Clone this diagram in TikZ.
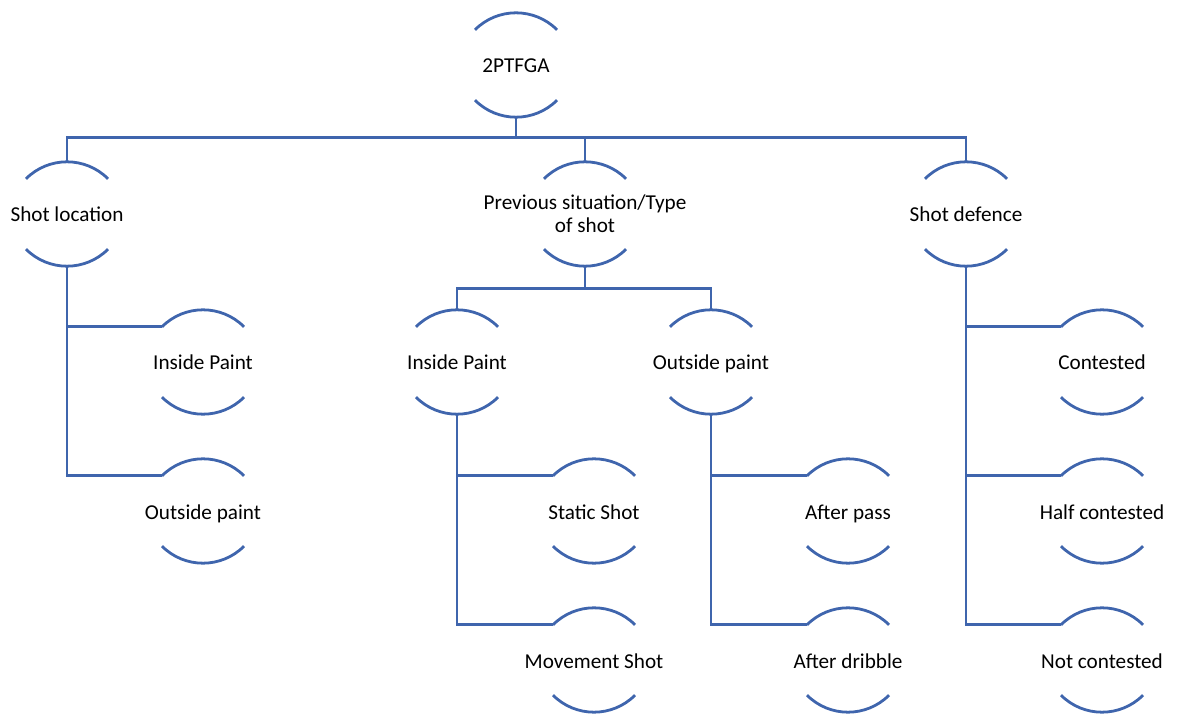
\documentclass[tikz,border=0pt]{standalone}
\usepackage{fontspec}
\setmainfont{Carlito}
\usetikzlibrary{calc}
\definecolor{lineblue}{RGB}{63,101,173}
\tikzset{
  nd/.style={minimum width=82pt, minimum height=104pt, inner sep=0pt, align=center,
    font=\fontsize{21.2}{23}\selectfont, text=black, text height=20pt, text depth=4pt},
  conn/.style={draw=lineblue, line width=2.8pt},
  arcline/.style={draw=lineblue, line width=2.8pt}
}
\newcommand\arcsfor[1]{%
  \draw[arcline] ($(#1.north)+(-41,-17)$) arc[start angle=135, end angle=45, radius=58];
  \draw[arcline] ($(#1.south)+(-41,17)$) arc[start angle=225, end angle=315, radius=58];
  \coordinate (#1-l) at ($(#1.north)+(-41,-17)$);
}
\begin{document}
\begin{tikzpicture}[x=1pt, y=1pt]
\useasboundingbox (0,0) rectangle (1177,715);
% nodes
\node[nd] (root) at (516,650) {2PTFGA};
\node[nd] (sl) at (67,501) {Shot location};
\node[nd, text height=, text depth=] (pv) at (585,501) {Previous situation/Type\\of shot};
\node[nd] (sd) at (966,501) {Shot defence};
\node[nd] (ipA) at (203,353) {Inside Paint};
\node[nd] (opA) at (203,204) {Outside paint};
\node[nd] (ipB) at (457,353) {Inside Paint};
\node[nd] (opB) at (711,353) {Outside paint};
\node[nd] (ss) at (594,204) {Static Shot};
\node[nd] (ms) at (594,55) {Movement Shot};
\node[nd] (ap) at (848,204) {After pass};
\node[nd] (ad) at (848,55) {After dribble};
\node[nd] (co) at (1102,353) {Contested};
\node[nd] (hc) at (1102,204) {Half contested};
\node[nd] (nc) at (1102,55) {Not contested};
% arcs
\foreach \n in {root,sl,pv,sd,ipA,opA,ipB,opB,ss,ms,ap,ad,co,hc,nc}{\arcsfor{\n}}
% connectors from root
\draw[conn] (root.south) -- ++(0,-20) -| (sl.north);
\draw[conn] (root.south) -- ++(0,-20) -| (pv.north);
\draw[conn] (root.south) -- ++(0,-20) -| (sd.north);
% previous situation
\draw[conn] (pv.south) -- ++(0,-22) -| (ipB.north);
\draw[conn] (pv.south) -- ++(0,-22) -| (opB.north);
% side branches
\draw[conn] (sl.south) |- (ipA-l);
\draw[conn] (sl.south) |- (opA-l);
\draw[conn] (ipB.south) |- (ss-l);
\draw[conn] (ipB.south) |- (ms-l);
\draw[conn] (opB.south) |- (ap-l);
\draw[conn] (opB.south) |- (ad-l);
\draw[conn] (sd.south) |- (co-l);
\draw[conn] (sd.south) |- (hc-l);
\draw[conn] (sd.south) |- (nc-l);
\end{tikzpicture}
\end{document}
